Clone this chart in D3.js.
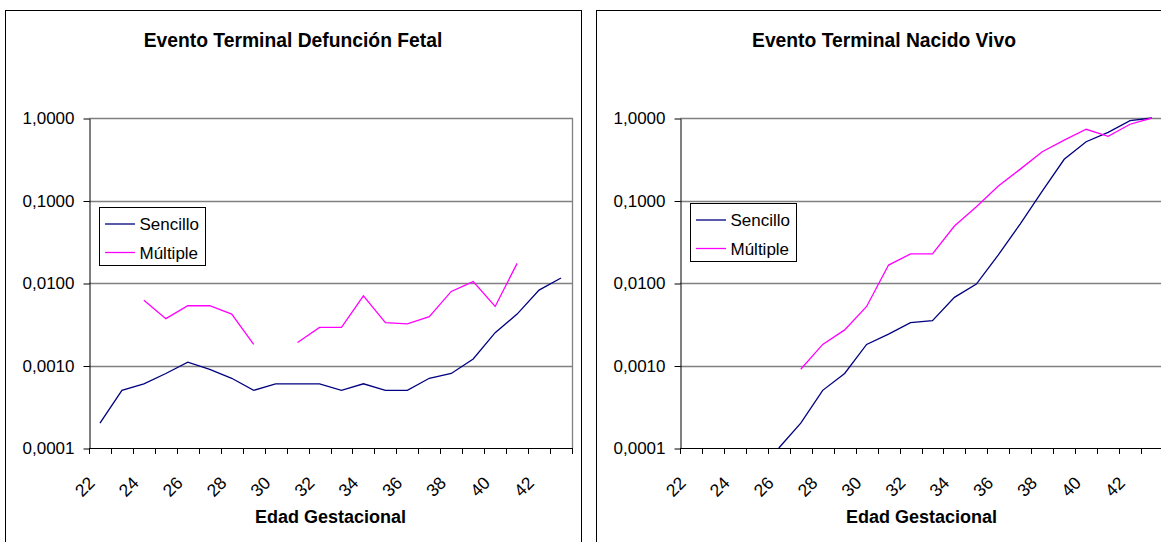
<!DOCTYPE html>
<html>
<head>
<meta charset="utf-8">
<script src="https://cdn.jsdelivr.net/npm/d3@7"></script>
<style>
  body { margin: 0; background: #fff; }
  svg { display: block; font-family: "Liberation Sans", Arial, sans-serif; }
</style>
</head>
<body>
<svg id="chart" width="1161" height="542"></svg>
<script>
// categories (gestational age, weeks)
const ages = [22, 23, 24, 25, 26, 27, 28, 29, 30, 31, 32, 33, 34, 35, 36, 37, 38, 39, 40, 41, 42, 43];
const ageTickLabels = [22, 24, 26, 28, 30, 32, 34, 36, 38, 40, 42];
const yTickValues = [1, 0.1, 0.01, 0.001, 0.0001];
const yTickLabels = ["1,0000", "0,1000", "0,0100", "0,0010", "0,0001"];

const seriesNames = ["Sencillo", "Múltiple"];
const seriesColors = ["#000080", "#ff00ff"];

// Evento Terminal Defunción Fetal
const fetalSencillo = [0.0002, 0.0005, 0.0006, 0.0008, 0.0011, 0.0009, 0.0007, 0.0005, 0.0006, 0.0006, 0.0006,
  0.0005, 0.0006, 0.0005, 0.0005, 0.0007, 0.0008, 0.0012, 0.0025, 0.0042, 0.0082, 0.0115];
const fetalMultiple = [null, null, 0.0062, 0.0037, 0.0053, 0.0053, 0.0042, 0.0018, null, 0.0019, 0.0029,
  0.0029, 0.0070, 0.0033, 0.0032, 0.0039, 0.0079, 0.0104, 0.0052, 0.0173, null, null];

// Evento Terminal Nacido Vivo
const vivoSencillo = [null, null, null, null, 0.0001, 0.0002, 0.0005, 0.0008, 0.0018, 0.0024, 0.0033,
  0.0035, 0.0067, 0.0097, 0.0219, 0.052, 0.13, 0.316, 0.516, 0.67, 0.93, 1.0];
const vivoMultiple = [null, null, null, null, null, 0.0009, 0.0018, 0.0027, 0.0052, 0.0165, 0.0225,
  0.0225, 0.049, 0.084, 0.15, 0.24, 0.39, 0.54, 0.73, 0.60, 0.84, 1.0];

const svg = d3.select("#chart");

function drawPanel(x0, title, data, legendTop) {
  const panelW = 576;
  const plot = { left: x0 + 84, right: x0 + 84 + 483, top: 118, bottom: 448 };

  const g = svg.append("g");

  // chart area border (runs off the bottom of the picture)
  g.append("rect")
    .attr("x", x0 + 0.5).attr("y", 10.5)
    .attr("width", panelW).attr("height", 560)
    .attr("fill", "#fff").attr("stroke", "#000").attr("stroke-width", 1);

  const x = d3.scaleBand().domain(ages).range([plot.left, plot.right]).padding(0);
  const y = d3.scaleLog().domain([0.0001, 1]).range([plot.bottom, plot.top]);
  const cx = a => x(a) + x.bandwidth() / 2;

  // plot area frame + gridlines
  g.append("line")
    .attr("x1", plot.right + 0.5).attr("x2", plot.right + 0.5)
    .attr("y1", plot.top).attr("y2", plot.bottom)
    .attr("stroke", "#808080").attr("stroke-width", 1.3);
  g.selectAll(".grid").data(yTickValues.slice(0, 4)).enter().append("line")
    .attr("x1", plot.left).attr("x2", plot.right + 1)
    .attr("y1", d => Math.round(y(d)) + 0.5).attr("y2", d => Math.round(y(d)) + 0.5)
    .attr("stroke", "#808080").attr("stroke-width", 1.3);

  // y axis
  const yAxis = d3.axisLeft(y).tickValues(yTickValues)
    .tickFormat((d, i) => yTickLabels[i]).tickSizeInner(6).tickSizeOuter(0).tickPadding(9);
  const ya = g.append("g").attr("transform", `translate(${plot.left + 0.5},0.5)`).call(yAxis);
  ya.select(".domain").attr("stroke", "#000");
  ya.selectAll("line").attr("stroke", "#000");
  ya.selectAll("text").attr("font-size", "17px").attr("fill", "#000")
    .attr("font-family", "Liberation Sans, Arial, sans-serif");

  // x axis: ticks between categories
  const xa = g.append("g");
  xa.append("line")
    .attr("x1", plot.left).attr("x2", plot.right + 1)
    .attr("y1", plot.bottom + 0.5).attr("y2", plot.bottom + 0.5)
    .attr("stroke", "#000");
  const bounds = ages.map(a => x(a)).concat([plot.right]);
  xa.selectAll(".tk").data(bounds).enter().append("line")
    .attr("x1", d => Math.round(d) + 0.5).attr("x2", d => Math.round(d) + 0.5)
    .attr("y1", plot.bottom).attr("y2", plot.bottom + 6)
    .attr("stroke", "#000");
  xa.selectAll(".lbl").data(ageTickLabels).enter().append("text")
    .attr("transform", d => `translate(${cx(d) - 4},${plot.bottom + 36}) rotate(-45)`)
    .attr("text-anchor", "end")
    .attr("font-size", "17.5px")
    .text(d => d);

  // series
  const line = d3.line()
    .defined(d => d.v != null)
    .x(d => cx(d.a))
    .y(d => y(d.v));
  data.forEach((vals, k) => {
    const pts = ages.map((a, i) => ({ a: a, v: vals[i] }));
    g.append("path").datum(pts)
      .attr("d", line)
      .attr("fill", "none")
      .attr("stroke", seriesColors[k])
      .attr("stroke-width", 1.3);
  });

  // titles
  g.append("text")
    .attr("x", x0 + panelW / 2).attr("y", 47)
    .attr("text-anchor", "middle")
    .attr("font-size", "19.3px").attr("font-weight", "bold")
    .text(title);
  g.append("text")
    .attr("x", (plot.left + plot.right) / 2).attr("y", 523)
    .attr("text-anchor", "middle")
    .attr("font-size", "18px").attr("font-weight", "bold")
    .text("Edad Gestacional");

  // legend
  const lx = plot.left + 10;
  const lg = g.append("g").attr("transform", `translate(${lx},${legendTop})`);
  lg.append("rect")
    .attr("x", 0.5).attr("y", 0.5).attr("width", 106).attr("height", 58)
    .attr("fill", "#fff").attr("stroke", "#000");
  seriesNames.forEach((name, k) => {
    const ly = 17 + k * 28.5;
    lg.append("line")
      .attr("x1", 6).attr("x2", 36).attr("y1", ly).attr("y2", ly)
      .attr("stroke", seriesColors[k]).attr("stroke-width", 1.3);
    lg.append("text")
      .attr("x", 40.5).attr("y", ly).attr("dy", "0.36em")
      .attr("font-size", "17px")
      .text(name);
  });
}

drawPanel(5, "Evento Terminal Defunción Fetal", [fetalSencillo, fetalMultiple], 207);
drawPanel(596, "Evento Terminal Nacido Vivo", [vivoSencillo, vivoMultiple], 203);
</script>
</body>
</html>
